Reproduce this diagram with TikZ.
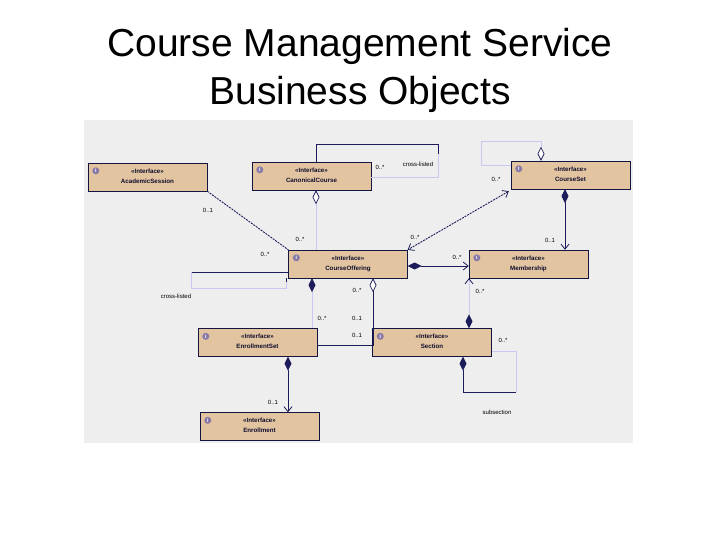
\documentclass[tikz,border=0pt]{standalone}
\usepackage{fontspec}
\setmainfont{Liberation Sans}
\usetikzlibrary{arrows.meta,calc}
\definecolor{panel}{HTML}{EEEEEE}
\definecolor{tan}{HTML}{E3C4A0}
\definecolor{navy}{HTML}{1C1C5C}
\definecolor{lite}{HTML}{C8C8F0}
\definecolor{icon}{HTML}{8878A8}
\tikzset{
  umlbox/.style={draw=navy!70!black, fill=tan, minimum width=119pt, minimum height=28pt, inner sep=0pt, font=\fontsize{6.2}{7}\selectfont\bfseries, align=center, text=navy!50!black},
  dk/.style={draw=navy, line width=0.9pt},
  lt/.style={draw=lite, line width=0.9pt},
  lbl/.style={font=\fontsize{6}{6.5}\selectfont, text=black, inner sep=1pt},
  od/.tip={Diamond[open,fill=white,length=14pt,width=7pt,line width=0.7pt,color=navy]},
  fd/.tip={Diamond[fill=navy,color=navy,length=14pt,width=7pt]},
  oa/.tip={Straight Barb[length=5pt,width=8pt,line width=0.8pt,color=navy]},
  ttl/.style={font=\fontsize{39}{48}\selectfont, align=center}
}
\newcommand{\umlcontent}[1]{\begin{tabular}{@{}c@{}}\textless\textless Interface\textgreater\textgreater\\[3pt]#1\end{tabular}}
\begin{document}
\begin{tikzpicture}[x=1pt,y=-1pt]
\useasboundingbox (0,0) rectangle (720,540);
\fill[white] (0,0) rectangle (720,540);
\node[ttl] (title) at (360,70) {Course Management Service\\Business Objects};
\fill[panel] (84,120) rectangle (633,443);
% boxes
\node[umlbox] (as) at (147.5,177) {\umlcontent{AcademicSession}};
\node[umlbox] (cc) at (311.5,176) {\umlcontent{CanonicalCourse}};
\node[umlbox] (cs) at (570.5,175) {\umlcontent{CourseSet}};
\node[umlbox] (co) at (348,264) {\umlcontent{CourseOffering}};
\node[umlbox] (ms) at (528.5,264) {\umlcontent{Membership}};
\node[umlbox] (es) at (257.5,342.5) {\umlcontent{EnrollmentSet}};
\node[umlbox] (se) at (432,342.5) {\umlcontent{Section}};
\node[umlbox] (en) at (259.5,426.5) {\umlcontent{Enrollment}};
\foreach \b in {as,cc,cs,co,ms,es,se,en}{
  \node[circle, fill=icon, inner sep=0pt, minimum size=7pt, font=\fontsize{5}{5}\selectfont\bfseries, text=white] (\b i) at ($(\b.north west)+(8,8)$) {I};
}
% CanonicalCourse self loop
\coordinate (c1) at (316,144); \coordinate (c2) at (438,144); \coordinate (c3) at (438,177);
\draw[dk] (cc.north -| c1) -- (c1) -- (c2) -- ($(c2)!0.3!(c3)$);
\draw[lt] ($(c2)!0.3!(c3)$) -- (c3) -- (c3 -| cc.east);
\node[lbl] (l1) at (380,167) {0..*};
\node[lbl] (l2) at (418,164) {cross-listed};
% CourseSet self loop
\coordinate (s1) at (541,141); \coordinate (s2) at (481,141); \coordinate (s3) at (481,165);
\draw[lt, od-] (cs.north -| s1) -- (s1) -- (s2) -- (s3) -- (s3 -| cs.west);
% AcademicSession -> CourseOffering
\draw[dk, dash pattern=on 2pt off 1pt] (as.south east) -- (co.north west);
\node[lbl] (l3) at (208,210) {0..1};
\node[lbl] (l4) at (265,254) {0..*};
% CanonicalCourse -> CourseOffering
\coordinate (k1) at (316,0);
\draw[lt, od-] (cc.south -| k1) -- (co.north -| k1);
\node[lbl] (l5) at (300,239) {0..*};
% CourseSet -> CourseOffering
\draw[dk, dash pattern=on 2pt off 1pt, oa-oa] ($(cs.south west)+(-2,2)$) -- (co.north east);
\node[lbl] (l6) at (496,179) {0..*};
\node[lbl] (l7) at (415,237) {0..*};
% CourseSet -> Membership
\coordinate (k2) at (565,0);
\draw[dk, fd-oa] (cs.south -| k2) -- (ms.north -| k2);
\node[lbl] (l8) at (550,240) {0..1};
% CourseOffering -> Membership
\coordinate (k3) at (0,266);
\draw[dk, fd-oa] (co.east |- k3) -- (ms.west |- k3);
\node[lbl] (l9) at (457,257) {0..*};
% CourseOffering cross-listed loop
\coordinate (x1) at (191,272); \coordinate (x2) at (191,288); \coordinate (x3) at (286,288);
\draw[dk] (co.west |- x1) -- (x1);
\draw[lt] (x1) -- (x2) -- (x3) -- ($(x3)+(0,-6)$);
\draw[dk] ($(x3)+(0,-6)$) -- (co.south -| x3);
\node[lbl] (l10) at (176,296) {cross-listed};
% CourseOffering -> EnrollmentSet
\coordinate (k4) at (312,0);
\draw[lt, fd-] (co.south -| k4) -- (es.north -| k4);
\node[lbl] (l11) at (322,318) {0..*};
% CourseOffering -> Section/EnrollmentSet
\coordinate (k5) at (373,345);
\draw[dk, od-] (co.south -| k5) -- (k5) -- (es.east |- k5);
\node[lbl] (l12) at (357,290) {0..*};
\node[lbl] (l13) at (357,318) {0..1};
\node[lbl] (l14) at (357,335) {0..1};
% Membership -> Section
\coordinate (k6) at (469,0);
\draw[lt, oa-fd] (ms.south -| k6) -- (se.north -| k6);
\node[lbl] (l15) at (480,291) {0..*};
% Section self loop
\coordinate (t1) at (463,392); \coordinate (t2) at (516,392); \coordinate (t3) at (516,351);
\draw[dk, fd-] (se.south -| t1) -- (t1) -- (t2);
\draw[lt] (t2) -- (t3) -- (t3 -| se.east);
\node[lbl] (l16) at (503,340) {0..*};
\node[lbl] (l17) at (497,412) {subsection};
% EnrollmentSet -> Enrollment
\coordinate (k7) at (288,0);
\draw[dk, fd-oa] (es.south -| k7) -- (en.north -| k7);
\node[lbl] (l18) at (273,402) {0..1};
\end{tikzpicture}
\end{document}
